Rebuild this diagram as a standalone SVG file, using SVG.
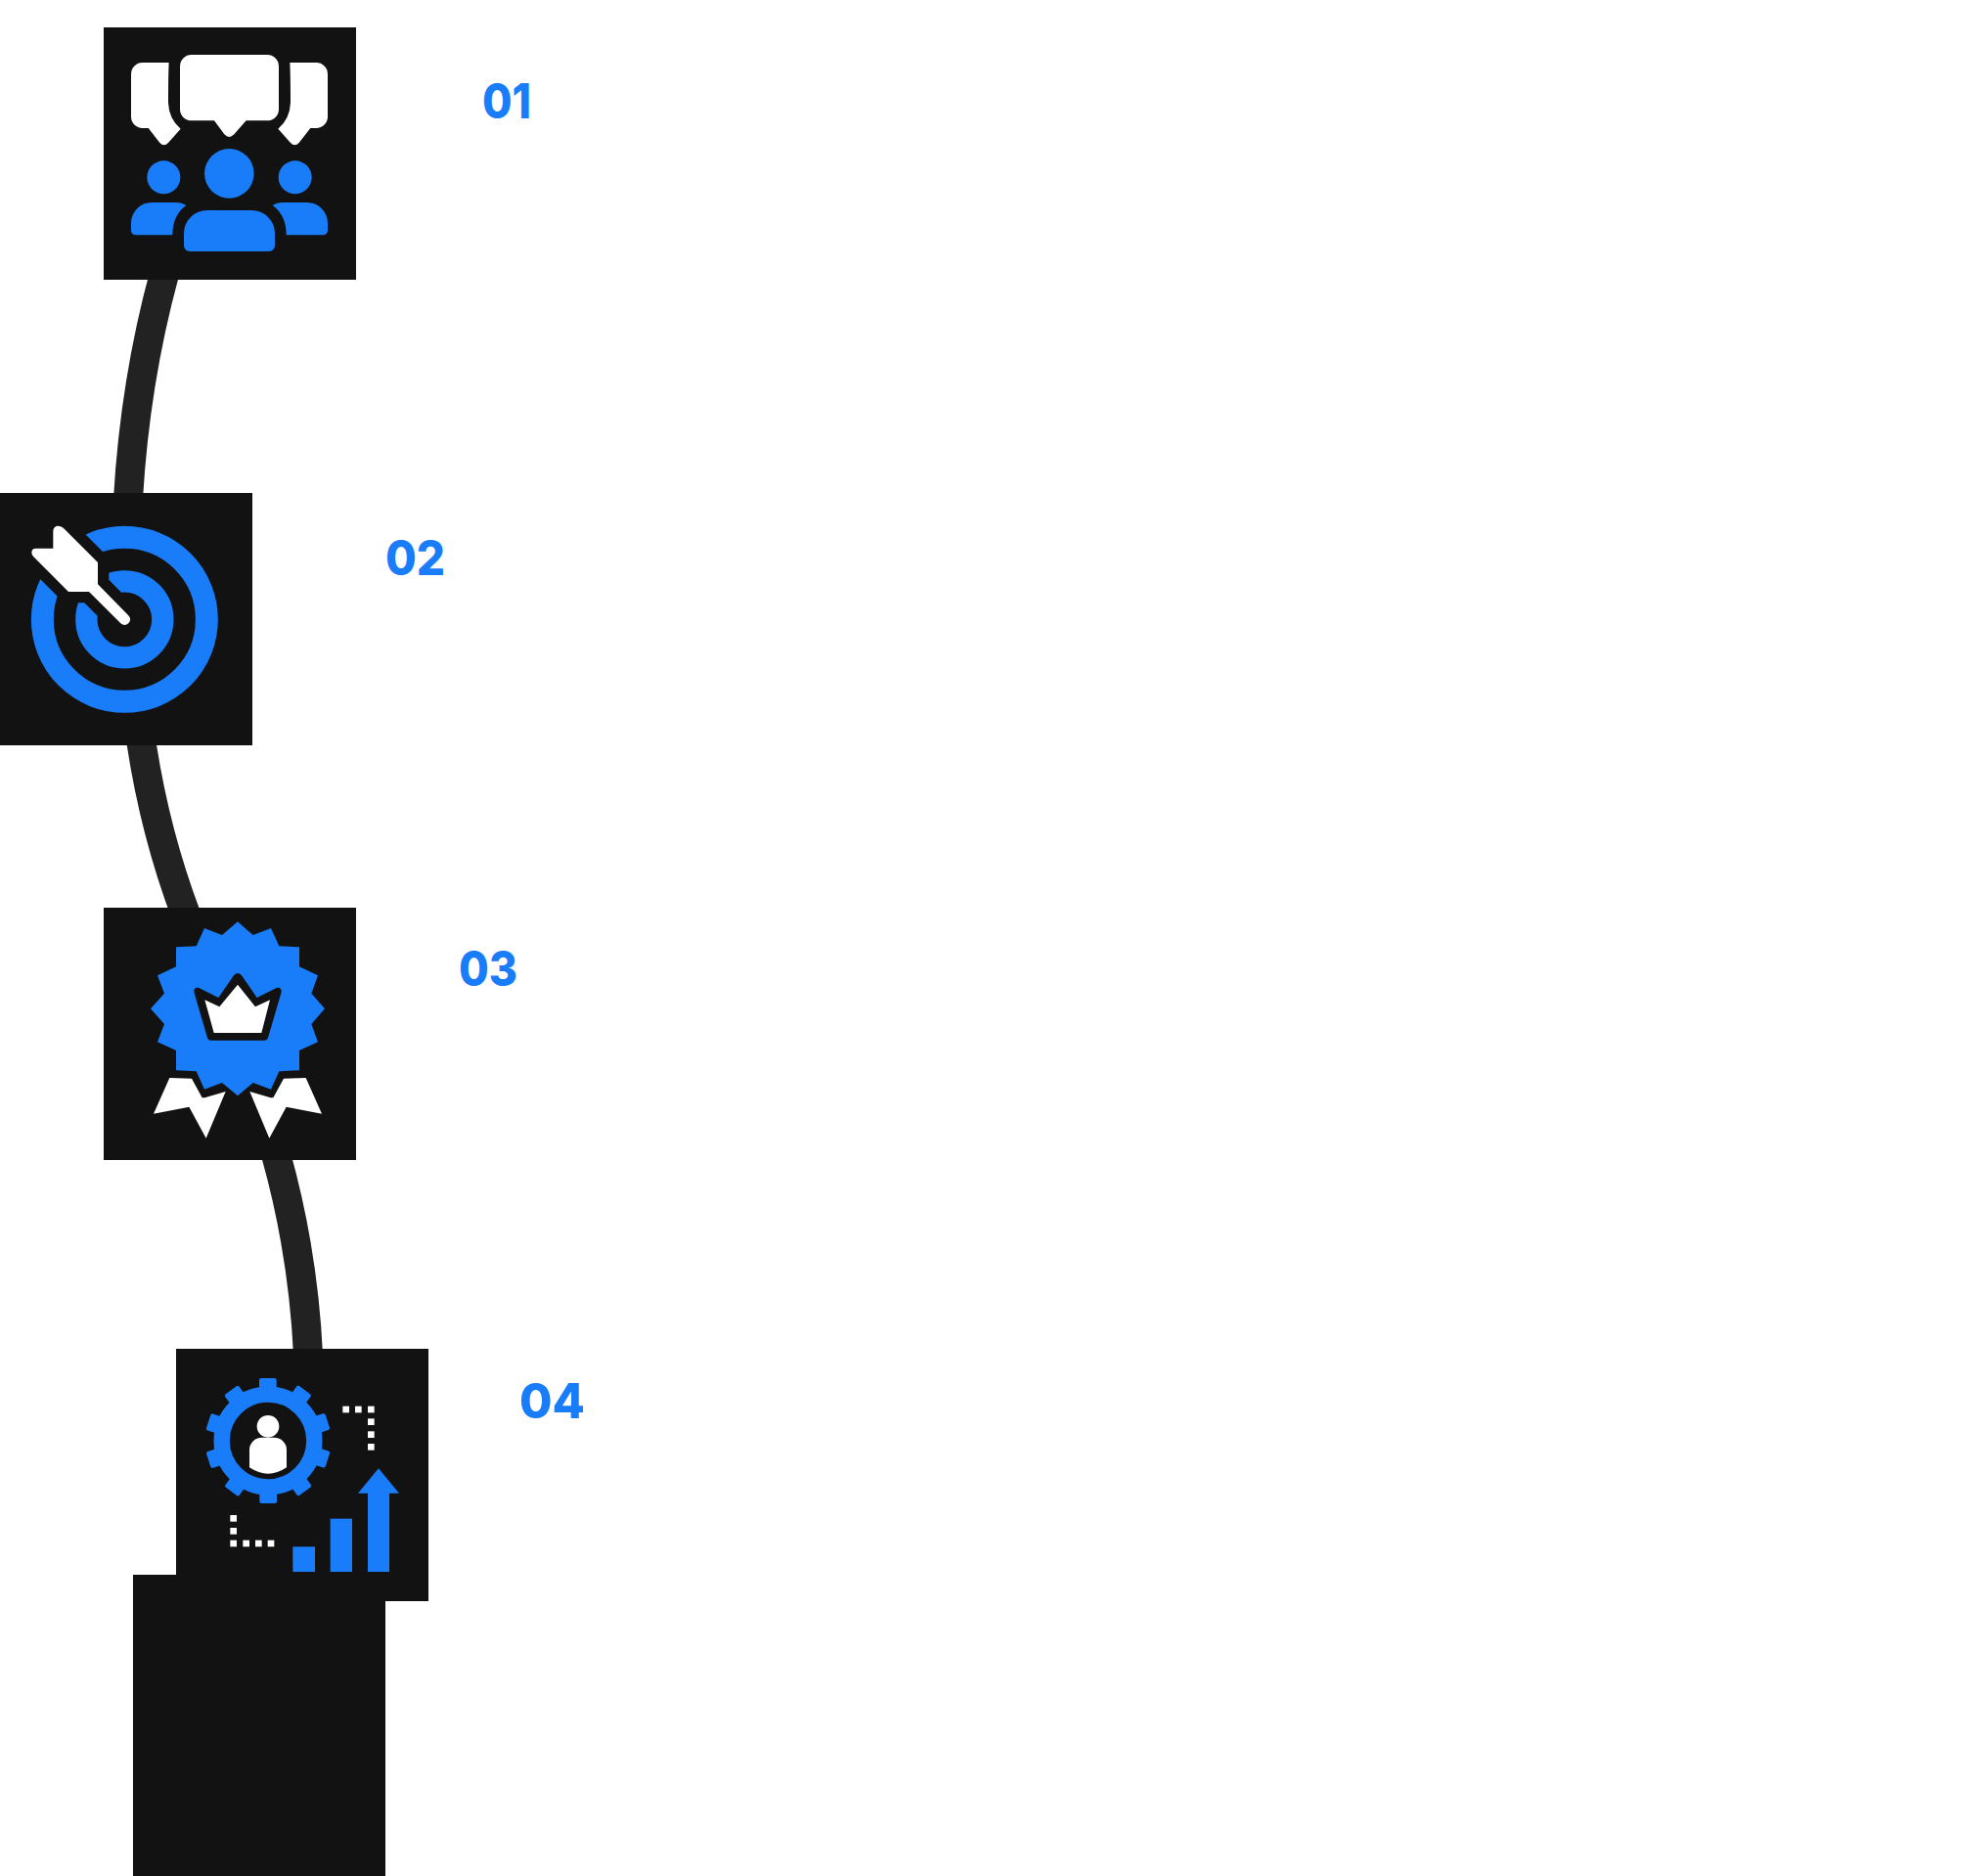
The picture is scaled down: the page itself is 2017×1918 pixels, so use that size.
<svg xmlns="http://www.w3.org/2000/svg" width="2017" height="1918" viewBox="0 0 2017 1918">
<style>
.box{fill:#121212}
.blue{fill:#197cf9}
.white{fill:#fff}
.dark{fill:#121212}
.link{fill:none;stroke:#222;stroke-width:30}
.num{font-family:"Inter","Liberation Sans",sans-serif;font-weight:800;font-size:49px;fill:#197cf9}
</style>
<defs>
<rect id="dot" width="20" height="20" fill="#fff"/>
<path id="tooth" d="M270 108 Q270 102 276 102 H317 Q323 102 323 108 V150 H270Z" fill="#197cf9"/>
</defs>
<rect width="2017" height="1918" fill="#fff"/>
<g id="connectors">
<path class="link" d="M168 280 Q138 390 131 510"/>
<path class="link" d="M144 756 Q158 850 190 935"/>
<path class="link" d="M282 1180 Q310 1280 315 1385"/>
</g>
<g id="node-1">
<rect class="box" x="106" y="28" width="258" height="258"/>
<g transform="translate(100 20) scale(.33333)">
<path class="white" d="M287 108 H520 A35 35 0 0 1 555 143 V275 A35 35 0 0 1 520 310 H455 L418 352 Q403 368 388 352 L357 310 H287 A35 35 0 0 1 252 275 V143 A35 35 0 0 1 287 108Z"/>
<path class="white" d="M137 132 H218 Q216 170 216 255 Q218 305 254 335 L216 378 Q203 392 190 378 L155 333 H137 A35 35 0 0 1 102 298 V167 A35 35 0 0 1 137 132Z"/>
<path class="white" d="M670 132 H589 Q591 170 591 255 Q589 305 553 335 L591 378 Q604 392 617 378 L652 333 H670 A35 35 0 0 0 705 298 V167 A35 35 0 0 0 670 132Z"/>
<circle class="blue" cx="403" cy="472" r="76"/>
<path class="blue" d="M335 585 H472 A71 71 0 0 1 543 656 V693 A18 18 0 0 1 525 711 H282 A18 18 0 0 1 264 693 V656 A71 71 0 0 1 335 585Z"/>
<circle class="blue" cx="202" cy="484" r="51"/>
<circle class="blue" cx="605" cy="484" r="51"/>
<path class="blue" d="M165 561 H240 Q258 561 271 570 Q229 600 229 661 H116 A14 14 0 0 1 102 647 V624 A63 63 0 0 1 165 561Z"/>
<path class="blue" d="M642 561 H567 Q549 561 536 570 Q578 600 578 661 H691 A14 14 0 0 0 705 647 V624 A63 63 0 0 0 642 561Z"/>
</g>
</g>
<g id="node-2">
<rect class="box" x="0" y="504" width="258" height="258"/>
<g transform="translate(0 500) scale(.33333)">
<circle cx="382" cy="400" r="252" fill="none" stroke="#197cf9" stroke-width="69"/>
<circle cx="382" cy="400" r="117" fill="none" stroke="#197cf9" stroke-width="67"/>
<path d="M300 225 L195 120 Q185 112 175 113 Q163 116 163 130 V182 H110 Q97 182 97 195 Q97 202 103 208 L210 315 H273 L370 412 Q382 422 394 412 Q405 400 394 388 L300 292Z" fill="#121212" stroke="#121212" stroke-width="68" stroke-miterlimit="10"/>
<path class="white" d="M300 225 L195 120 Q185 112 175 113 Q163 116 163 130 V182 H110 Q97 182 97 195 Q97 202 103 208 L210 315 H273 L370 412 Q382 422 394 412 Q405 400 394 388 L300 292Z"/>
</g>
</g>
<g id="node-3">
<rect class="box" x="106" y="928" width="258" height="258"/>
<g transform="translate(100 925) scale(.33333)">
<polygon class="white" points="220,531 288,533 320,592 328,592 392,573 332,716 280,620 171,641"/>
<polygon class="white" points="638,531 570,533 538,592 530,592 466,573 526,716 578,620 687,641"/>
<polygon class="blue" points="429,52 476,93 531,72 556,127 618,130 618,190 675,217 655,272 696,319 655,366 675,421 618,447 618,508 556,511 531,566 476,546 429,586 381,546 327,566 302,511 240,508 240,447 183,421 204,366 162,319 204,272 183,217 240,190 240,130 302,127 327,72 381,93"/>
<path class="dark" d="M418 215 Q429 205 440 215 L488 285 L548 255 Q564 252 563 268 L522 408 Q520 416 512 416 H346 Q338 416 336 408 L295 268 Q294 252 310 255 L370 285Z"/>
<polygon class="white" points="429,245 483,313 528,292 502,393 356,393 328,292 373,313"/>
</g>
</g>
<g id="node-5">
<rect class="box" x="136" y="1610" width="258" height="308"/>
</g>
<g id="node-4">
<rect class="box" x="180" y="1379" width="258" height="258"/>
<g transform="translate(175 1375) scale(.33333)">
<circle cx="297" cy="294" r="142" fill="none" stroke="#197cf9" stroke-width="49"/>
<use href="#tooth"/>
<use href="#tooth" transform="rotate(36 297 294)"/>
<use href="#tooth" transform="rotate(72 297 294)"/>
<use href="#tooth" transform="rotate(108 297 294)"/>
<use href="#tooth" transform="rotate(144 297 294)"/>
<use href="#tooth" transform="rotate(180 297 294)"/>
<use href="#tooth" transform="rotate(216 297 294)"/>
<use href="#tooth" transform="rotate(252 297 294)"/>
<use href="#tooth" transform="rotate(288 297 294)"/>
<use href="#tooth" transform="rotate(324 297 294)"/>
<circle class="white" cx="297" cy="250" r="34"/>
<path class="white" d="M240 376 V322 A38 38 0 0 1 278 284 H316 A38 38 0 0 1 354 322 V376 Q297 414 240 376Z"/>
<use href="#dot" x="526" y="188"/><use href="#dot" x="564" y="188"/><use href="#dot" x="603" y="188"/>
<use href="#dot" x="603" y="226"/><use href="#dot" x="603" y="265"/><use href="#dot" x="603" y="303"/>
<use href="#dot" x="181" y="522"/><use href="#dot" x="181" y="561"/><use href="#dot" x="181" y="599"/>
<use href="#dot" x="220" y="599"/><use href="#dot" x="258" y="599"/><use href="#dot" x="296" y="599"/>
<rect class="blue" x="373" y="619" width="68" height="77"/>
<rect class="blue" x="488" y="533" width="67" height="163"/>
<polygon class="blue" points="603,696 603,455 573,455 636,379 699,455 669,455 669,696"/>
</g>
</g>
<g id="labels">
<text class="num" x="493" y="121" textLength="50" lengthAdjust="spacingAndGlyphs">01</text>
<text class="num" x="394" y="588" textLength="61" lengthAdjust="spacingAndGlyphs">02</text>
<text class="num" x="469" y="1008" textLength="60" lengthAdjust="spacingAndGlyphs">03</text>
<text class="num" x="531" y="1450" textLength="67" lengthAdjust="spacingAndGlyphs">04</text>
</g>
</svg>
